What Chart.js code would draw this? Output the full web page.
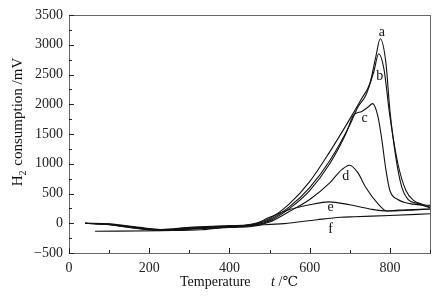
<!DOCTYPE html>
<html>
<head>
<meta charset="utf-8">
<script src="https://cdn.jsdelivr.net/npm/chart.js@4/dist/chart.umd.min.js"></script>
<style>
html,body{margin:0;padding:0;background:#fff;}
#wrap{width:438px;height:296px;position:relative;}
</style>
</head>
<body>
<div id="wrap"><canvas id="c" width="438" height="296"></canvas></div>
<script>
// ---- data ----
const seriesNames = ['a','b','c','d','e','f'];
const aTemp = [40,100,150,230,300,400,450,500,550,600,650,700,730,750,765,776,790,800,815,830,845,870,900];
const aVal  = [0,-10,-45,-105,-70,-40,-20,80,330,700,1200,1750,2100,2350,2800,3100,2700,1900,1100,600,400,330,260];
const bTemp = [40,100,150,230,300,400,450,500,550,600,650,700,720,740,760,772,785,800,820,840,860,880,900];
const bVal  = [0,-15,-55,-110,-80,-45,-30,60,280,600,1050,1650,1950,2150,2550,2850,2600,1800,1000,550,380,320,270];
const cTemp = [40,100,150,230,300,400,450,500,550,600,650,690,710,730,745,757,770,780,790,800,820,850,900];
const cVal  = [0,-20,-60,-115,-90,-50,-40,40,250,550,1000,1500,1820,1880,1950,2010,1800,1400,900,550,400,330,300];
const dTemp = [40,100,150,230,300,400,450,500,550,600,650,680,700,720,740,770,793,820,860,900];
const dVal  = [0,-25,-70,-120,-100,-70,-60,20,200,400,680,900,975,850,600,330,205,220,230,240];
const eTemp = [40,100,150,230,300,400,450,500,550,600,648,700,750,794,850,900];
const eVal  = [0,-20,-65,-118,-95,-55,-40,100,230,310,360,310,240,205,220,240];
const fTemp = [65,230,330,400,452,536,619,677,711,800,900];
const fVal  = [-135,-125,-110,-60,-35,-6,60,100,110,130,160];
const labelTemp = [780,775,737,690,652,652];
const labelVal  = [3210,2470,1770,790,270,-110];
const xTicks = [0,200,400,600,800];
const yTicks = [-500,0,500,1000,1500,2000,2500,3000,3500];

const temps = [aTemp,bTemp,cTemp,dTemp,eTemp,fTemp];
const vals  = [aVal,bVal,cVal,dVal,eVal,fVal];

const datasets = seriesNames.map((n,i)=>({
  label:n,
  data: temps[i].map((t,j)=>({x:t,y:vals[i][j]})),
  borderColor:'#111',
  borderWidth:1.1,
  pointRadius:0,
  fill:false,
  tension:0.4,
  cubicInterpolationMode:'monotone'
}));

const serif = '"Liberation Serif","DejaVu Serif",serif';

const decor = {
  id:'decor',
  afterDraw(chart){
    const ctx = chart.ctx;
    const xs = chart.scales.x, ys = chart.scales.y;
    const ca = chart.chartArea;
    ctx.save();
    // frame
    ctx.strokeStyle = '#666';
    ctx.lineWidth = 1;
    ctx.strokeRect(Math.round(ca.left)+0.5, Math.round(ca.top)+0.5, Math.round(ca.right-ca.left), Math.round(ca.bottom-ca.top));
    // inward ticks
    ctx.strokeStyle = '#222';
    ctx.beginPath();
    for (let v=-500; v<=3500; v+=250){
      const y = Math.round(ys.getPixelForValue(v))+0.5;
      const len = (v % 500 === 0) ? 5 : 3;
      ctx.moveTo(ca.left, y); ctx.lineTo(ca.left+len, y);
    }
    for (let t=0; t<=900; t+=100){
      const x = Math.round(xs.getPixelForValue(t))+0.5;
      const len = (t % 200 === 0) ? 5 : 3;
      ctx.moveTo(x, ca.bottom); ctx.lineTo(x, ca.bottom-len);
    }
    ctx.stroke();
    // curve labels
    ctx.fillStyle = '#111';
    ctx.font = '14px ' + serif;
    ctx.textAlign = 'center';
    ctx.textBaseline = 'middle';
    seriesNames.forEach((n,i)=>{
      ctx.fillText(n, xs.getPixelForValue(labelTemp[i]), ys.getPixelForValue(labelVal[i]));
    });
    // x title
    ctx.textAlign = 'left';
    ctx.textBaseline = 'alphabetic';
    ctx.font = '14px ' + serif;
    ctx.fillText('Temperature', 180, 286);
    ctx.font = 'italic 14px ' + serif;
    ctx.fillText('t', 271, 286);
    ctx.font = '14px ' + serif;
    ctx.fillText(' /℃', 275, 286);
    // y title rotated with subscript
    ctx.translate(22, 122);
    ctx.rotate(-Math.PI/2);
    ctx.textAlign = 'left';
    ctx.font = '15px ' + serif;
    const w = ctx.measureText('H').width;
    const rest = ' consumption /mV';
    const total = w + 6 + ctx.measureText(rest).width;
    const x0 = -total/2;
    ctx.fillText('H', x0, 0);
    ctx.font = '10px ' + serif;
    ctx.fillText('2', x0+w, 4);
    ctx.font = '15px ' + serif;
    ctx.fillText(rest, x0+w+6, 0);
    ctx.restore();
  }
};

new Chart(document.getElementById('c'), {
  type:'line',
  data:{datasets},
  options:{
    responsive:false,
    animation:false,
    devicePixelRatio:1,
    layout:{padding:{left:0,right:8,top:15,bottom:0}},
    plugins:{legend:{display:false},tooltip:{enabled:false}},
    scales:{
      x:{
        type:'linear', min:0, max:900,
        grid:{display:false, drawTicks:false},
        border:{display:false},
        afterBuildTicks(s){ s.ticks = xTicks.map(v=>({value:v})); },
        afterFit(s){ s.height = 43; },
        ticks:{color:'#222', font:{family:serif,size:14}, padding:7, maxRotation:0}
      },
      y:{
        type:'linear', min:-500, max:3500,
        grid:{display:false, drawTicks:false},
        border:{display:false},
        afterBuildTicks(s){ s.ticks = yTicks.map(v=>({value:v})); },
        afterFit(s){ s.width = 69; },
        ticks:{color:'#222', font:{family:serif,size:14}, padding:6, callback:(v)=> (v<0 ? '\u2212'+Math.abs(v) : String(v))}
      }
    }
  },
  plugins:[decor]
});
</script>
</body>
</html>
